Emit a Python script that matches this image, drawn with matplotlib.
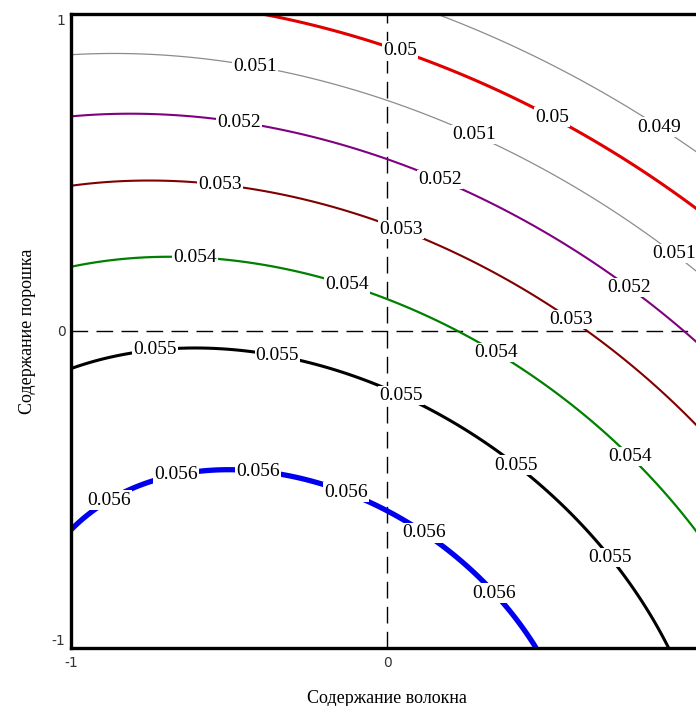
import numpy as np
import matplotlib
matplotlib.use("Agg")
import matplotlib.pyplot as plt

# Second-order response surface in coded factors (fibre x1, powder x2):
# z = b0 + b1*x1 + b2*x2 + b11*x1^2 + b22*x2^2 + b12*x1*x2
b0 = 0.054381
b1 = -0.001444
b2 = -0.003640
b11 = -0.001161
b22 = -0.001384
b12 = -0.000642

levels = [0.049, 0.050, 0.051, 0.052, 0.053, 0.054, 0.055, 0.056]
line_colors = ["#8c8c8c", "#e00000", "#8c8c8c", "#800080", "#800000", "#008000", "#000000", "#0000ee"]
line_widths = [0.9, 2.2, 0.9, 1.5, 1.5, 1.6, 2.2, 3.8]

x_ticks = [-1, 0]
y_ticks = [-1, 0, 1]
x_label = "Содержание волокна"
y_label = "Содержание порошка"

# where the level values are written along the lines
label_spots = [
    (0.842, 0.612),
    (0.036, 0.868), (0.51, 0.653),
    (-0.418, 0.829), (0.263, 0.595), (0.88, 0.206),
    (-0.47, 0.645), (0.157, 0.453), (0.743, 0.106),
    (-0.528, 0.461), (0.036, 0.296), (0.558, 0.0),
    (-0.608, 0.229), (-0.133, 0.129), (0.326, -0.097), (0.732, -0.433),
    (-0.734, -0.05), (-0.349, -0.091), (0.036, -0.223), (0.384, -0.454), (0.664, -0.749),
    (-0.898, -0.502), (-0.671, -0.433), (-0.407, -0.444), (-0.138, -0.528), (0.099, -0.665), (0.310, -0.854),
]

serif = ["Liberation Serif", "DejaVu Serif"]

fig = plt.figure(figsize=(6.96, 7.06), dpi=100)
ax = fig.add_axes([71 / 696, 58 / 706, 632 / 696, 634 / 706])

g = np.linspace(-1, 1, 401)
X1, X2 = np.meshgrid(g, g)
Z = b0 + b1 * X1 + b2 * X2 + b11 * X1 ** 2 + b22 * X2 ** 2 + b12 * X1 * X2

ax.axhline(0, color="black", lw=1.0, ls=(0, (12, 6)), zorder=1)
ax.axvline(0, color="black", lw=1.0, ls=(0, (12, 6)), zorder=1)

cs = ax.contour(X1, X2, Z, levels=levels, colors=line_colors, linewidths=line_widths, zorder=2)
texts = ax.clabel(cs, manual=label_spots, inline=False, colors="black",
                  fmt=lambda v: f"{v:g}", fontsize=14)
for t in texts:
    t.set_rotation(0)
    t.set_family(serif)
    t.set_zorder(5)
    t.set_bbox(dict(facecolor="white", edgecolor="none", pad=0.8))

ax.set_xlim(-1, 1)
ax.set_ylim(-1, 1)
for s in ax.spines.values():
    s.set_linewidth(2.4)
    s.set_color("black")

ax.set_xticks(x_ticks)
ax.set_yticks(y_ticks)
ax.set_xticklabels([str(v) for v in x_ticks])
ax.set_yticklabels([str(v) for v in y_ticks])
ax.tick_params(length=0, labelsize=10, labelcolor="#333333", pad=6)
ax.tick_params(axis="y", pad=4)
ylabs = ax.get_yticklabels()
ylabs[0].set_verticalalignment("bottom")
ylabs[2].set_verticalalignment("top")

ax.set_xlabel(x_label, family=serif, fontsize=13, labelpad=14)
ax.set_ylabel(y_label, family=serif, fontsize=13, labelpad=11)

fig.savefig("out.png", dpi=100)
